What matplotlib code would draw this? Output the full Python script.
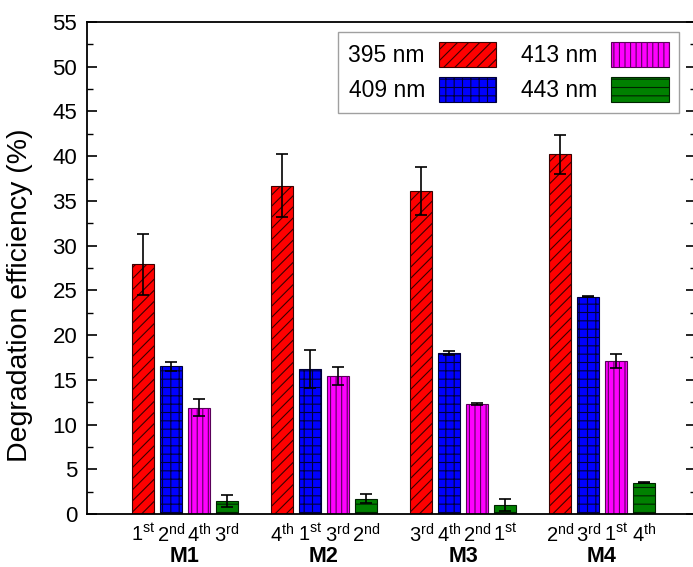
import numpy as np
import matplotlib
matplotlib.use("Agg")
import matplotlib.pyplot as plt
from matplotlib.ticker import MultipleLocator

plt.rcParams['font.family'] = ['Liberation Sans', 'DejaVu Sans']
plt.rcParams['mathtext.fontset'] = 'custom'
plt.rcParams['mathtext.rm'] = 'Liberation Sans'
plt.rcParams['hatch.linewidth'] = 0.8

# data
groups = ['M1', 'M2', 'M3', 'M4']
series = ['395 nm', '409 nm', '413 nm', '443 nm']
vals_395 = [27.9, 36.7, 36.1, 40.2]
err_395 = [3.4, 3.5, 2.7, 2.2]
vals_409 = [16.5, 16.2, 18.0, 24.3]
err_409 = [0.5, 2.1, 0.2, 0.05]
vals_413 = [11.9, 15.4, 12.3, 17.1]
err_413 = [0.9, 1.0, 0.1, 0.8]
vals_443 = [1.45, 1.7, 1.0, 3.5]
err_443 = [0.7, 0.5, 0.7, 0.05]
rank_labels = [['1st', '2nd', '4th', '3rd'],
               ['4th', '1st', '3rd', '2nd'],
               ['3rd', '4th', '2nd', '1st'],
               ['2nd', '3rd', '1st', '4th']]

colors = ['#ff0000', '#0000ff', '#ff00ff', '#008000']
edges = ['#3a0000', '#00003a', '#5a005a', '#002200']
hatches = ['///', '++', '|||', '--']

fig = plt.figure(figsize=(6.93, 5.67), dpi=100)
ax = fig.add_axes([87 / 693, 1 - 514 / 567, (696 - 87) / 693, (514 - 22) / 567])

x = np.arange(len(groups))
offsets = [-0.3, -0.1, 0.1, 0.3]
width = 0.16
all_vals = [vals_395, vals_409, vals_413, vals_443]
all_errs = [err_395, err_409, err_413, err_443]

for i in range(4):
    ax.bar(x + offsets[i], all_vals[i], width, color=colors[i], edgecolor=edges[i],
           hatch=hatches[i], linewidth=0.8, label=series[i], zorder=2)
    ax.errorbar(x + offsets[i], all_vals[i], yerr=all_errs[i], fmt='none',
                ecolor='black', elinewidth=1.2, capsize=4, capthick=1.2, zorder=3)

# per-bar rank labels
tick_pos = []
tick_lab = []
for g in range(len(groups)):
    for i in range(4):
        tick_pos.append(x[g] + offsets[i])
        lab = rank_labels[g][i]
        tick_lab.append(lab[0] + r'$^{\rm ' + lab[1:] + r'}$')
ax.set_xticks(tick_pos)
ax.set_xticklabels(tick_lab, fontsize=14.5)
ax.tick_params(axis='x', length=0, pad=7)

for g in range(len(groups)):
    ax.text(x[g], -0.087, groups[g], transform=ax.get_xaxis_transform(),
            ha='center', va='center', fontsize=15.5, fontweight='bold')

ax.set_xlim(-0.705, 3.676)
ax.set_ylim(0, 55)
ax.yaxis.set_major_locator(MultipleLocator(5))
ax.yaxis.set_minor_locator(MultipleLocator(2.5))
ax.tick_params(axis='y', which='major', direction='in', length=7, width=1.2,
               right=True, labelsize=16, pad=7)
ax.tick_params(axis='y', which='minor', direction='in', length=4, width=1, right=True)
ax.set_ylabel('Degradation efficiency (%)', fontsize=20.5)
ax.yaxis.set_label_coords(-0.089, 0.445)
for sp in ax.spines.values():
    sp.set_linewidth(1.3)

leg = ax.legend(ncol=2, loc='upper right', bbox_to_anchor=(0.972, 0.98),
                borderaxespad=0, fontsize=16.5, markerfirst=False, fancybox=False,
                edgecolor='#888888', handlelength=2.5, handleheight=1.27,
                columnspacing=1.1, labelspacing=0.45, handletextpad=0.6,
                borderpad=0.45)
leg.get_frame().set_linewidth(1.0)

fig.savefig('out.png', dpi=100)
